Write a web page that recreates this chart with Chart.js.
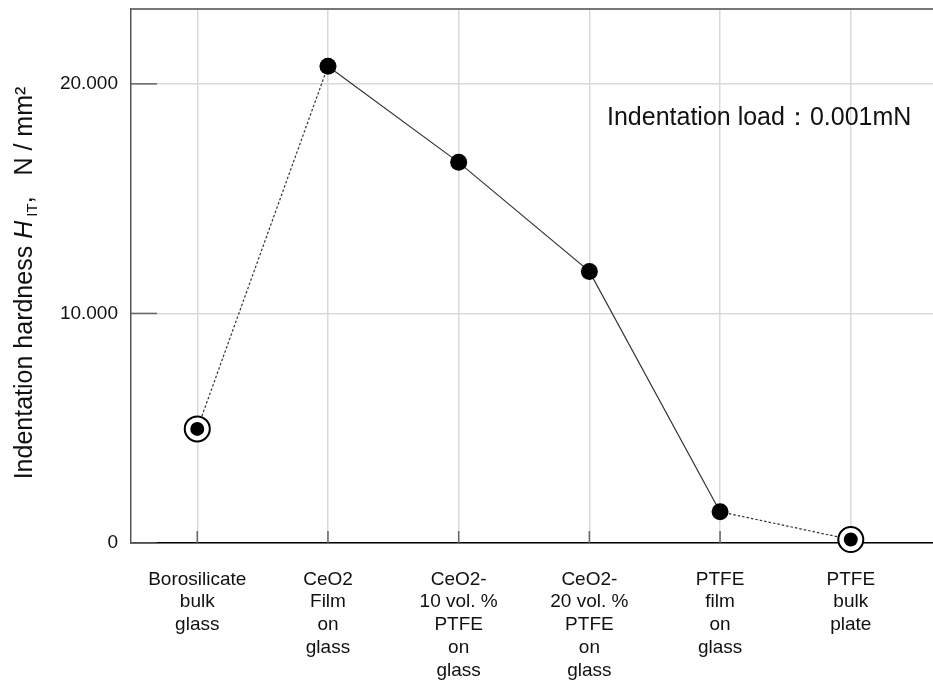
<!DOCTYPE html>
<html>
<head>
<meta charset="utf-8">
<script src="https://cdn.jsdelivr.net/npm/chart.js@4"></script>
<style>
  html, body { margin: 0; padding: 0; background: #fff; }
  canvas { display: block; }
</style>
</head>
<body>
<canvas id="hardnessChart" width="933" height="681"></canvas>
<script>
// Data
const categories = [
    ['Borosilicate', 'bulk', 'glass'],
    ['CeO2', 'Film', 'on', 'glass'],
    ['CeO2-', '10 vol. %', 'PTFE', 'on', 'glass'],
    ['CeO2-', '20 vol. %', 'PTFE', 'on', 'glass'],
    ['PTFE', 'film', 'on', 'glass'],
    ['PTFE', 'bulk', 'plate']
];
const hardness = [4970, 20770, 16580, 11830, 1360, 150]; // N / mm²
const circled = [true, false, false, false, false, true]; // bulk reference materials
const yTicks = [0, 10000, 20000];
const yTickLabels = ['0', '10.000', '20.000'];
const loadNote = 'Indentation load：0.001mN';

const FONT = "'Liberation Sans', Arial, sans-serif";

const points = hardness.map((v, i) => ({ x: i, y: v }));
const ringPoints = hardness.map((v, i) => ({ x: i, y: circled[i] ? v : null }));

// white page, top frame line and the short inner ticks
const framePlugin = {
    id: 'frame',
    beforeDraw(chart) {
        const c = chart.ctx;
        c.save();
        c.fillStyle = '#fff';
        c.fillRect(0, 0, chart.width, chart.height);
        c.restore();
    },
    beforeDatasetsDraw(chart) {
        const c = chart.ctx;
        const a = chart.chartArea;
        const x = chart.scales.x, y = chart.scales.y;
        c.save();
        c.strokeStyle = '#777';
        c.lineWidth = 2;
        c.beginPath();
        c.moveTo(a.left, a.top);
        c.lineTo(a.right, a.top);
        c.stroke();

        c.strokeStyle = '#666';
        c.lineWidth = 1.5;
        yTicks.forEach(t => {
            const py = y.getPixelForValue(t);
            c.beginPath();
            c.moveTo(a.left, py);
            c.lineTo(a.left + 26, py);
            c.stroke();
        });
        categories.forEach((_, i) => {
            const px = x.getPixelForValue(i);
            c.beginPath();
            c.moveTo(px, a.bottom);
            c.lineTo(px, a.bottom - 12);
            c.stroke();
        });
        c.restore();
    },
    afterDraw(chart) {
        const c = chart.ctx;
        c.save();
        c.fillStyle = '#111';

        // annotation
        c.font = `25px ${FONT}`;
        c.textBaseline = 'alphabetic';
        c.textAlign = 'left';
        c.fillText(loadNote, 607, 125);

        // y axis title with italic H and subscript IT
        const parts = [
            { t: 'Indentation hardness ', f: `25px ${FONT}`, dy: 0 },
            { t: 'H', f: `italic 25px ${FONT}`, dy: 0 },
            { t: ' IT', f: `15px ${FONT}`, dy: 5 },
            { t: ',   N / mm²', f: `25px ${FONT}`, dy: 0 }
        ];
        let total = 0;
        parts.forEach(p => { c.font = p.f; p.w = c.measureText(p.t).width; total += p.w; });
        c.translate(32, 283);
        c.rotate(-Math.PI / 2);
        let cx = -total / 2;
        parts.forEach(p => {
            c.font = p.f;
            c.fillText(p.t, cx, p.dy);
            cx += p.w;
        });
        c.restore();
    }
};

new Chart(document.getElementById('hardnessChart'), {
    type: 'line',
    data: {
        datasets: [
            {
                label: 'line',
                data: points,
                borderColor: '#333',
                borderWidth: 1.2,
                pointRadius: 0,
                fill: false,
                tension: 0,
                clip: false,
                order: 3,
                segment: {
                    borderDash: ctx => (circled[ctx.p0DataIndex] || circled[ctx.p1DataIndex]) ? [2.5, 2] : undefined
                }
            },
            {
                label: 'ring',
                data: ringPoints,
                showLine: false,
                pointRadius: 12.5,
                pointBackgroundColor: '#fff',
                pointBorderColor: '#000',
                pointBorderWidth: 2,
                clip: false,
                order: 2
            },
            {
                label: 'hardness',
                data: points,
                showLine: false,
                pointRadius: circled.map(c => c ? 7 : 8.5),
                pointBackgroundColor: '#000',
                pointBorderColor: '#000',
                pointBorderWidth: 0,
                clip: false,
                order: 1
            }
        ]
    },
    options: {
        responsive: false,
        animation: false,
        events: [],
        layout: { autoPadding: false, padding: { top: 9, left: 0, right: 0, bottom: 0 } },
        plugins: {
            legend: { display: false },
            tooltip: { enabled: false }
        },
        scales: {
            x: {
                type: 'linear',
                min: -0.507,
                max: 5.629,
                afterBuildTicks: s => { s.ticks = categories.map((_, i) => ({ value: i })); },
                afterFit: s => { s.height = 138; s.paddingLeft = 0; s.paddingRight = 0; },
                ticks: {
                    callback: v => categories[v],
                    autoSkip: false,
                    maxRotation: 0,
                    padding: 25,
                    color: '#111',
                    font: { family: FONT, size: 19, lineHeight: 1.2 }
                },
                grid: { color: '#d9d9d9', lineWidth: 1.5, drawTicks: false },
                border: { color: '#000', width: 1.5 }
            },
            y: {
                min: 0,
                max: 23260,
                afterBuildTicks: s => { s.ticks = yTicks.map(v => ({ value: v })); },
                afterFit: s => { s.width = 131; s.paddingTop = 0; s.paddingBottom = 0; },
                ticks: {
                    callback: v => yTickLabels[yTicks.indexOf(v)],
                    padding: 13,
                    color: '#111',
                    font: { family: FONT, size: 19 }
                },
                grid: { color: '#d9d9d9', lineWidth: 1.5, drawTicks: false },
                border: { color: '#555', width: 1.5 }
            }
        }
    },
    plugins: [framePlugin]
});
</script>
</body>
</html>
